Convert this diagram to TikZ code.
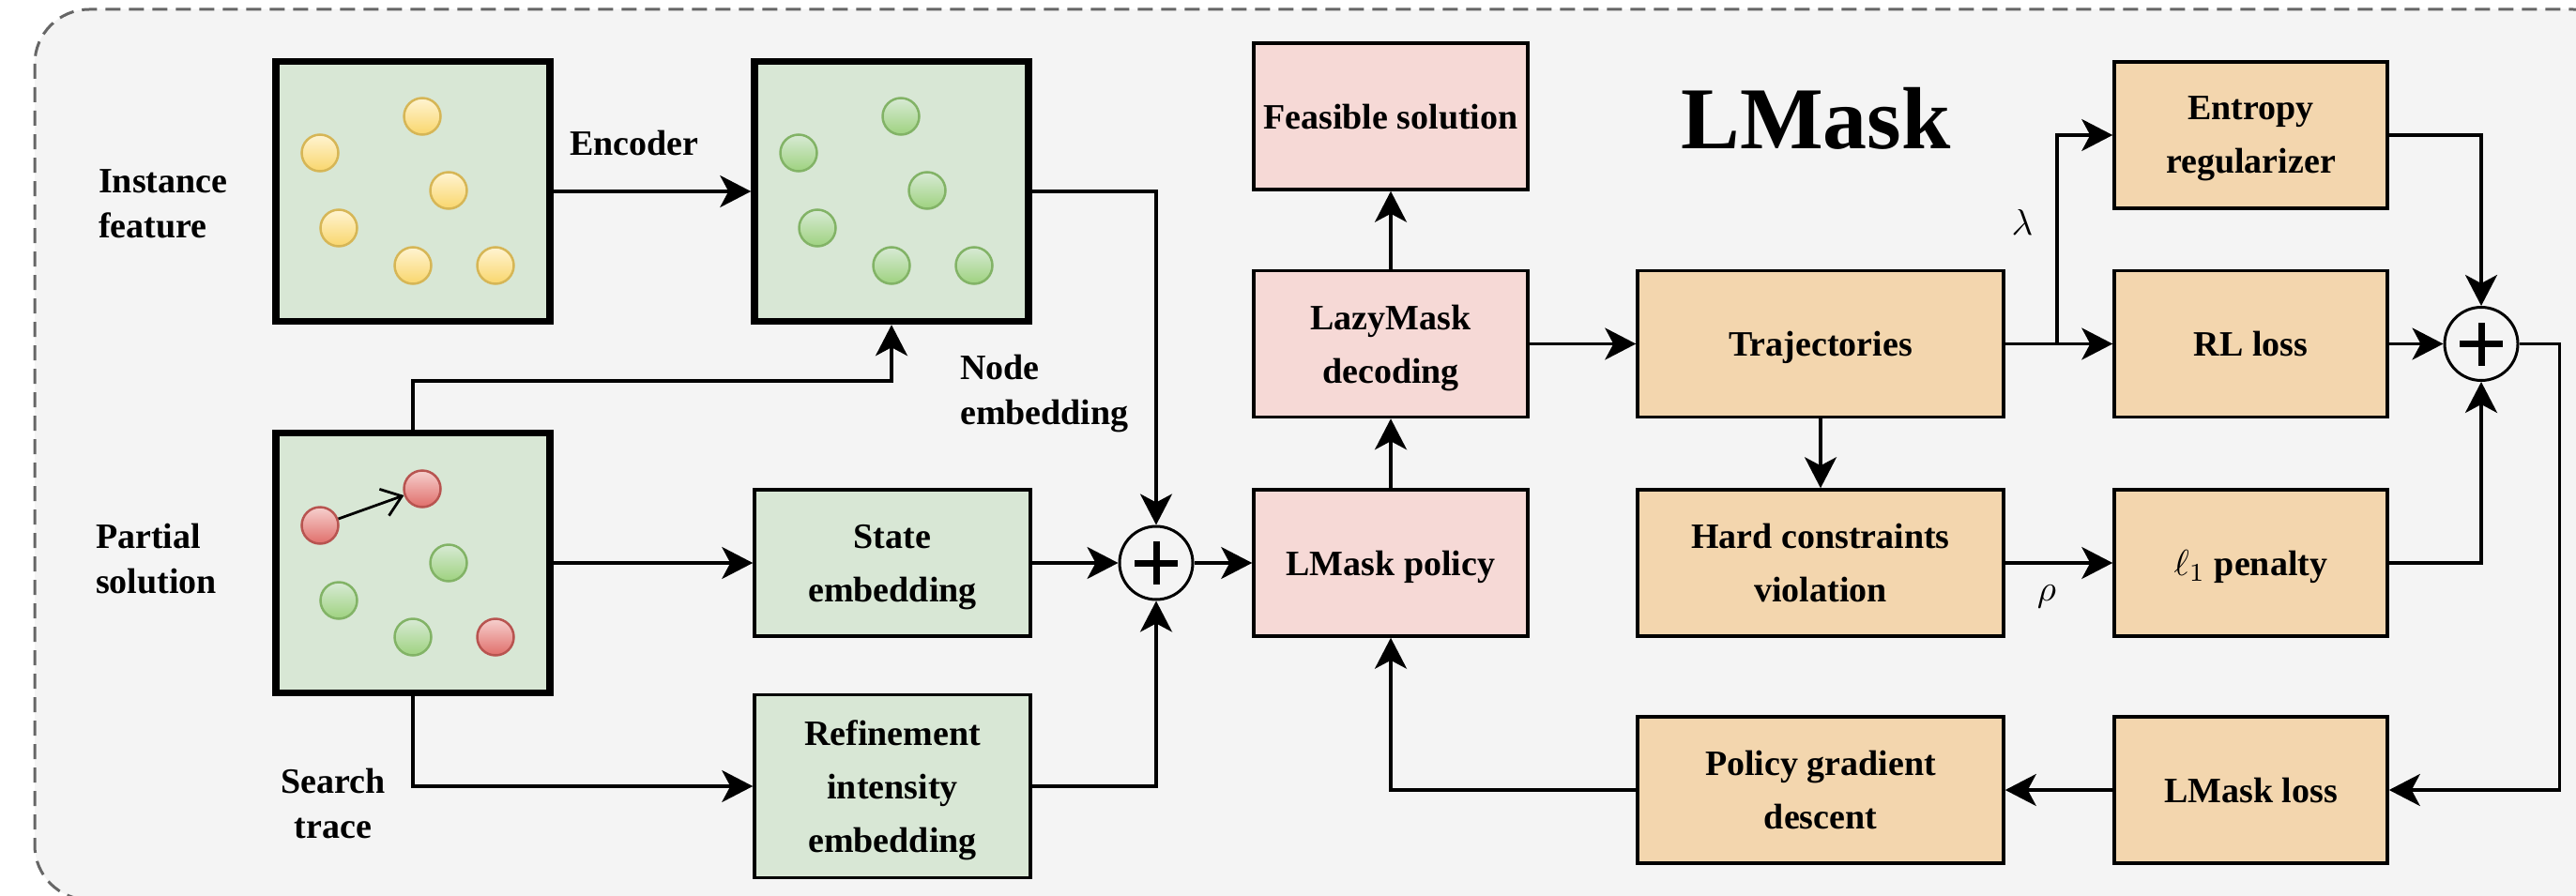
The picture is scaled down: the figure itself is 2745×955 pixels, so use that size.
\documentclass[tikz,border=0pt]{standalone}
\usepackage{graphicx}
\usepackage{fontspec}
\setmainfont{Liberation Serif}
\usetikzlibrary{arrows.meta}

\definecolor{bgc}{HTML}{F4F4F4}
\definecolor{frame}{HTML}{666666}
\definecolor{gfill}{HTML}{D8E7D5}
\definecolor{pfill}{HTML}{F6D9D6}
\definecolor{ofill}{HTML}{F3D6AE}
\definecolor{ytop}{HTML}{FFF4D2}
\definecolor{ybot}{HTML}{F9D66C}
\definecolor{ydraw}{HTML}{D6B656}
\definecolor{gtop}{HTML}{D8EAD5}
\definecolor{gbot}{HTML}{9ED27F}
\definecolor{gdraw}{HTML}{82B366}
\definecolor{rtop}{HTML}{F6D0CE}
\definecolor{rbot}{HTML}{E06E6A}
\definecolor{rdraw}{HTML}{B85450}

\newcommand{\lblfont}{\fontsize{38}{48}\selectfont\bfseries}
\newcommand{\boxfont}{\fontsize{38}{57}\selectfont\bfseries}
% math symbols set at 10pt and scaled up to the text size
\newcommand{\bigmath}[1]{\scalebox{3.9}{\fontsize{10}{12}\selectfont$#1$}}

\begin{document}
\begin{tikzpicture}[x=1pt,y=-1pt,
  every node/.style={inner sep=0pt},
  lbl/.style={font=\lblfont, align=left},
  lblc/.style={font=\lblfont, align=center},
  bigbox/.style={draw=black, line width=7.5pt, fill=gfill, minimum width=292pt, minimum height=277pt},
  boxbase/.style={draw=black, line width=3.5pt, align=center, font=\boxfont, minimum height=156pt, text depth=0pt},
  gbox/.style={boxbase, fill=gfill, minimum width=294pt},
  pbox/.style={boxbase, fill=pfill, minimum width=292pt},
  obox/.style={boxbase, fill=ofill, minimum width=390pt},
  sbox/.style={boxbase, fill=ofill, minimum width=291pt},
  sumnode/.style={draw=black, circle, line width=3pt, fill=bgc, minimum size=78pt},
  plusbar/.style={line width=7pt},
  arr/.style={line width=3.5pt, -{Stealth[length=33pt,width=34pt,inset=9pt]}},
  ydot/.style={circle, draw=ydraw, line width=2.5pt, top color=ytop, bottom color=ybot, minimum size=39pt},
  gdot/.style={circle, draw=gdraw, line width=2.5pt, top color=gtop, bottom color=gbot, minimum size=39pt},
  rdot/.style={circle, draw=rdraw, line width=2.5pt, top color=rtop, bottom color=rbot, minimum size=39pt}
]

% canvas and dashed frame
\useasboundingbox (0,0) rectangle (2745,955);
\clip (0,0) rectangle (2745,955);
\fill[white] (0,0) rectangle (2745,955);
\draw[frame, fill=bgc, line width=3pt, dash pattern=on 16pt off 9pt, rounded corners=58pt]
  (37,10) rectangle (2800,959);

% ---------- encoder side ----------
\node[bigbox] (inst) at (440,204) {};
\node[bigbox] (emb)  at (950,204) {};
\node[bigbox] (part) at (440,600) {};

\node[ydot] (y1) at (450,124) {};
\node[ydot] (y2) at (341,163) {};
\node[ydot] (y3) at (478,203) {};
\node[ydot] (y4) at (361,243) {};
\node[ydot] (y5) at (440,283) {};
\node[ydot] (y6) at (528,283) {};

\node[gdot] (e1) at (960,124) {};
\node[gdot] (e2) at (851,163) {};
\node[gdot] (e3) at (988,203) {};
\node[gdot] (e4) at (871,243) {};
\node[gdot] (e5) at (950,283) {};
\node[gdot] (e6) at (1038,283) {};

\node[rdot] (s1) at (450,521) {};
\node[rdot] (s2) at (341,560) {};
\node[gdot] (s3) at (478,600) {};
\node[gdot] (s4) at (361,640) {};
\node[gdot] (s5) at (440,679) {};
\node[rdot] (s6) at (528,679) {};
\draw[line width=2.8pt, -{Straight Barb[length=20pt,width=30pt]}] (s2) -- (s1);

\node[lbl, anchor=west] (linst) at (105,217) {Instance\\feature};
\node[lbl, anchor=west] (lpart) at (102,596) {Partial\\solution};
\node[lblc] (ltrace) at (355,856) {Search\\trace};
\node[lbl] (lenc) at (676,153) {Encoder};
\node[lbl, anchor=west] (lnode) at (1023,420) {Node\\embedding};

\node[gbox] (state)  at (951,600) {State\\embedding};
\node[gbox, minimum height=195pt] (refine) at (951,838) {Refinement\\intensity\\embedding};
\node[sumnode] (p1) at (1232,600) {};
\draw[plusbar] ([xshift=-23pt]p1.center) -- ([xshift=23pt]p1.center);
\draw[plusbar] ([yshift=-23pt]p1.center) -- ([yshift=23pt]p1.center);

% ---------- decoder ----------
\node[pbox] (feas)   at (1482,124)   {Feasible solution};
\node[pbox] (lazy)   at (1482,366.5) {LazyMask\\decoding};
\node[pbox] (policy) at (1482,600)   {LMask policy};

\node[font=\fontsize{94}{100}\selectfont\bfseries] (title) at (1935,126) {LMask};

% ---------- training ----------
\node[obox] (traj) at (1940,366.5) {Trajectories};
\node[obox] (hard) at (1940,600)   {Hard constraints\\violation};
\node[obox] (pgd)  at (1940,842)   {Policy gradient\\descent};

\node[sbox] (ent)   at (2398.5,144)   {Entropy\\regularizer};
\node[sbox] (rl)    at (2398.5,366.5) {RL loss};
\node[sbox] (pen)   at (2398.5,600)   {\bigmath{\ell_1} penalty};
\node[sbox] (lmloss) at (2398.5,842)  {LMask loss};

\node[sumnode] (p2) at (2644,366.5) {};
\draw[plusbar] ([xshift=-23pt]p2.center) -- ([xshift=23pt]p2.center);
\draw[plusbar] ([yshift=-23pt]p2.center) -- ([yshift=23pt]p2.center);

\node (lam) at (2155,237) {\bigmath{\lambda}};
\node (rho) at (2181,636) {\bigmath{\rho}};

% ---------- connectors ----------
\draw[arr] (inst) -- (emb);
\draw[arr] (part.north) -- ++(0,-52) -| (emb.south);
\draw[arr] (part.east) -- (part.east -| state.west);
\draw[arr] (part.south) |- (refine.west);
\draw[arr] (emb.east) -| (p1.north);
\draw[arr] (state) -- (p1);
\draw[arr] (refine.east) -| (p1.south);
\draw[arr] (p1) -- (policy);
\draw[arr] (policy) -- (lazy);
\draw[arr] (lazy) -- (feas);
\draw[arr] (lazy) -- (traj);

\coordinate (br) at (2192,366.5);
\draw[arr] (traj) -- (rl);
\draw[arr] (br) |- (ent.west);
\draw[arr] (traj) -- (hard);
\draw[arr] (hard) -- (pen);

\draw[arr] (rl) -- (p2);
\draw[arr] (ent.east) -| (p2.north);
\draw[arr] (pen.east) -| (p2.south);
\draw[arr] (p2.east) -- ++(43,0) |- (lmloss.east);
\draw[arr] (lmloss) -- (pgd);
\draw[arr] (pgd.west) -| (policy.south);

\end{tikzpicture}
\end{document}
